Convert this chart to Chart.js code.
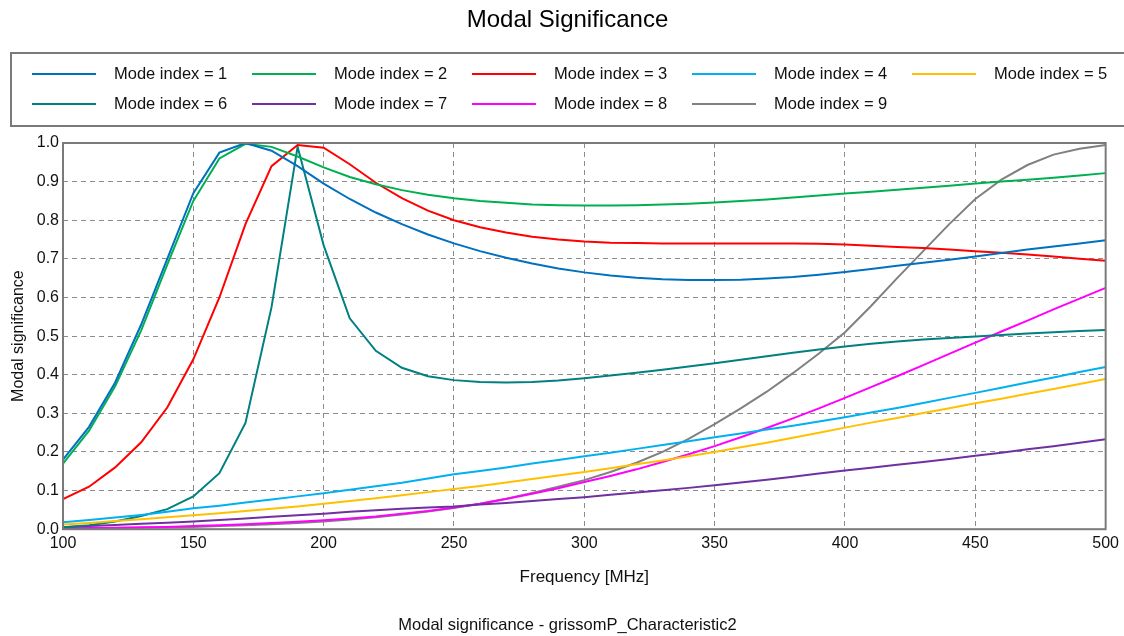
<!DOCTYPE html>
<html>
<head>
<meta charset="utf-8">
<script src="https://cdn.jsdelivr.net/npm/chart.js@4.4.1/dist/chart.umd.min.js"></script>
<style>
  html, body { margin: 0; padding: 0; background: #fff; }
  #wrap { width: 1124px; height: 636px; }
</style>
</head>
<body>
<div id="wrap"><canvas id="modal"></canvas></div>
<script>
// frequency sweep, MHz
const freq = [100, 110, 120, 130, 140, 150, 160, 170, 180, 190,
              200, 210, 220, 230, 240, 250, 260, 270, 280, 290,
              300, 310, 320, 330, 340, 350, 360, 370, 380, 390,
              400, 410, 420, 430, 440, 450, 460, 470, 480, 490, 500];

const mode1 = [0.180, 0.265, 0.380, 0.530, 0.700, 0.870, 0.975, 1.000, 0.980, 0.940,
               0.895, 0.855, 0.820, 0.790, 0.763, 0.740, 0.720, 0.703, 0.688, 0.675,
               0.665, 0.657, 0.651, 0.647, 0.645, 0.645, 0.646, 0.649, 0.653, 0.659,
               0.666, 0.674, 0.682, 0.690, 0.698, 0.706, 0.715, 0.724, 0.732, 0.740, 0.748];
const mode2 = [0.170, 0.255, 0.370, 0.515, 0.685, 0.850, 0.960, 0.998, 0.990, 0.965,
               0.937, 0.912, 0.893, 0.878, 0.866, 0.857, 0.850, 0.845, 0.841, 0.839,
               0.838, 0.838, 0.839, 0.841, 0.843, 0.846, 0.850, 0.854, 0.859, 0.864,
               0.869, 0.874, 0.879, 0.884, 0.889, 0.895, 0.900, 0.905, 0.910, 0.916, 0.922];
const mode3 = [0.078, 0.110, 0.160, 0.225, 0.315, 0.440, 0.600, 0.790, 0.940, 0.995,
               0.988, 0.945, 0.897, 0.857, 0.825, 0.800, 0.782, 0.768, 0.757, 0.750,
               0.745, 0.742, 0.741, 0.740, 0.740, 0.740, 0.740, 0.740, 0.740, 0.739,
               0.737, 0.734, 0.731, 0.728, 0.724, 0.720, 0.716, 0.711, 0.706, 0.700, 0.695];
const mode4 = [0.018, 0.024, 0.030, 0.037, 0.045, 0.054, 0.061, 0.069, 0.077, 0.085,
               0.093, 0.102, 0.111, 0.120, 0.131, 0.142, 0.151, 0.160, 0.170, 0.179,
               0.189, 0.198, 0.208, 0.218, 0.228, 0.238, 0.248, 0.258, 0.268, 0.279,
               0.290, 0.302, 0.314, 0.327, 0.340, 0.353, 0.366, 0.380, 0.393, 0.407, 0.420];
const mode5 = [0.012, 0.016, 0.021, 0.026, 0.031, 0.036, 0.041, 0.047, 0.053, 0.059,
               0.066, 0.073, 0.080, 0.088, 0.096, 0.104, 0.112, 0.121, 0.130, 0.139,
               0.148, 0.158, 0.168, 0.178, 0.189, 0.200, 0.212, 0.224, 0.237, 0.250,
               0.263, 0.276, 0.288, 0.301, 0.313, 0.326, 0.338, 0.351, 0.363, 0.376, 0.389];
const mode6 = [0.005, 0.010, 0.020, 0.034, 0.052, 0.085, 0.145, 0.275, 0.575, 0.990,
               0.735, 0.546, 0.462, 0.418, 0.396, 0.386, 0.381, 0.380, 0.381, 0.385,
               0.391, 0.398, 0.405, 0.413, 0.421, 0.430, 0.439, 0.448, 0.457, 0.465,
               0.473, 0.480, 0.486, 0.491, 0.495, 0.499, 0.503, 0.507, 0.510, 0.513, 0.516];
const mode7 = [0.005, 0.008, 0.011, 0.014, 0.017, 0.020, 0.024, 0.028, 0.032, 0.036,
               0.040, 0.045, 0.049, 0.053, 0.056, 0.059, 0.064, 0.068, 0.073, 0.078,
               0.083, 0.089, 0.095, 0.101, 0.107, 0.114, 0.121, 0.128, 0.136, 0.144,
               0.152, 0.159, 0.167, 0.174, 0.182, 0.190, 0.198, 0.207, 0.215, 0.224, 0.233];
const mode8 = [0.002, 0.003, 0.004, 0.005, 0.006, 0.008, 0.010, 0.013, 0.016, 0.019,
               0.023, 0.028, 0.033, 0.040, 0.047, 0.056, 0.066, 0.078, 0.092, 0.106,
               0.122, 0.138, 0.155, 0.174, 0.194, 0.215, 0.238, 0.262, 0.287, 0.313,
               0.340, 0.368, 0.396, 0.425, 0.454, 0.483, 0.512, 0.540, 0.569, 0.597, 0.625];
const mode9 = [0.001, 0.002, 0.003, 0.004, 0.005, 0.006, 0.008, 0.010, 0.013, 0.016,
               0.020, 0.025, 0.031, 0.038, 0.046, 0.055, 0.066, 0.079, 0.094, 0.110,
               0.127, 0.148, 0.172, 0.200, 0.234, 0.272, 0.313, 0.356, 0.404, 0.455,
               0.510, 0.578, 0.650, 0.720, 0.790, 0.855, 0.905, 0.943, 0.970, 0.985, 0.995];

const modeLabels = ['Mode index = 1', 'Mode index = 2', 'Mode index = 3', 'Mode index = 4', 'Mode index = 5',
                    'Mode index = 6', 'Mode index = 7', 'Mode index = 8', 'Mode index = 9'];
const modeColors = ['#0070c0', '#00b050', '#ff0000', '#00b0f0', '#ffc000',
                    '#008080', '#7030a0', '#ff00ff', '#808080'];
const modeValues = [mode1, mode2, mode3, mode4, mode5, mode6, mode7, mode8, mode9];

const FONT = '"Liberation Sans", Arial, sans-serif';

const datasets = modeValues.map((vals, i) => ({
  label: modeLabels[i],
  data: vals.map((v, k) => ({ x: freq[k], y: v })),
  borderColor: modeColors[i],
  backgroundColor: modeColors[i],
  borderWidth: 2,
  pointRadius: 0,
  tension: 0,
  fill: false
}));

// legend box with two rows of five columns, drawn by hand
const boxLegend = {
  id: 'boxLegend',
  afterDraw(chart) {
    const ctx = chart.ctx;
    ctx.save();
    ctx.strokeStyle = '#7a7a7a';
    ctx.lineWidth = 2;
    ctx.strokeRect(11, 53, 1124, 73);
    ctx.font = '16.5px ' + FONT;
    ctx.textBaseline = 'middle';
    ctx.fillStyle = '#111';
    chart.data.datasets.forEach((ds, i) => {
      const col = i % 5, row = Math.floor(i / 5);
      const x = 32 + col * 220, y = 74 + row * 30;
      ctx.strokeStyle = ds.borderColor;
      ctx.lineWidth = 2;
      ctx.beginPath();
      ctx.moveTo(x, y);
      ctx.lineTo(x + 64, y);
      ctx.stroke();
      ctx.fillText(ds.label, x + 82, y);
    });
    ctx.restore();
  }
};

// frame around the plot area
const plotFrame = {
  id: 'plotFrame',
  afterDatasetsDraw(chart) {
    const a = chart.chartArea, ctx = chart.ctx;
    ctx.save();
    ctx.strokeStyle = '#7a7a7a';
    ctx.lineWidth = 2;
    ctx.strokeRect(a.left, a.top, a.right - a.left, a.bottom - a.top);
    ctx.restore();
  }
};

new Chart(document.getElementById('modal'), {
  type: 'line',
  data: { datasets: datasets },
  options: {
    responsive: true,
    maintainAspectRatio: false,
    animation: false,
    layout: { padding: { left: 11, right: 0, top: 0, bottom: 0 } },
    plugins: {
      legend: { display: false },
      tooltip: { enabled: false },
      title: {
        display: true,
        text: 'Modal Significance',
        color: '#000',
        font: { family: FONT, size: 24, weight: 'normal' },
        padding: { top: 6, bottom: 108.2 }
      },
      subtitle: {
        display: true,
        position: 'bottom',
        text: 'Modal significance - grissomP_Characteristic2',
        color: '#111',
        font: { family: FONT, size: 16.5, weight: 'normal' },
        padding: { top: 25, bottom: 1 }
      }
    },
    scales: {
      x: {
        type: 'linear',
        min: 100,
        max: 500,
        afterFit: s => { s.height = 61; },
        ticks: { stepSize: 50, padding: 5, color: '#111', font: { family: FONT, size: 16 }, maxRotation: 0 },
        grid: { color: '#8c8c8c', lineWidth: 1, drawTicks: false },
        border: { display: false, dash: [5, 4] },
        title: {
          display: true,
          text: 'Frequency [MHz]',
          color: '#111',
          font: { family: FONT, size: 17 },
          padding: { top: 0, bottom: 3 }
        }
      },
      y: {
        min: 0,
        max: 1,
        afterFit: s => { s.width = 52; },
        ticks: { stepSize: 0.1, padding: 4, color: '#111', font: { family: FONT, size: 16 },
                 callback: v => v.toFixed(1) },
        grid: { color: '#8c8c8c', lineWidth: 1, drawTicks: false },
        border: { display: false, dash: [5, 4] },
        title: {
          display: true,
          text: 'Modal significance',
          color: '#111',
          font: { family: FONT, size: 16 },
          padding: { top: -2, bottom: 0 }
        }
      },
      // empty strip on the right keeps the plot off the edge
      yRight: {
        position: 'right',
        min: 0,
        max: 1,
        afterFit: s => { s.width = 18; },
        ticks: { display: false },
        grid: { display: false },
        border: { display: false }
      }
    }
  },
  plugins: [boxLegend, plotFrame]
});
</script>
</body>
</html>
